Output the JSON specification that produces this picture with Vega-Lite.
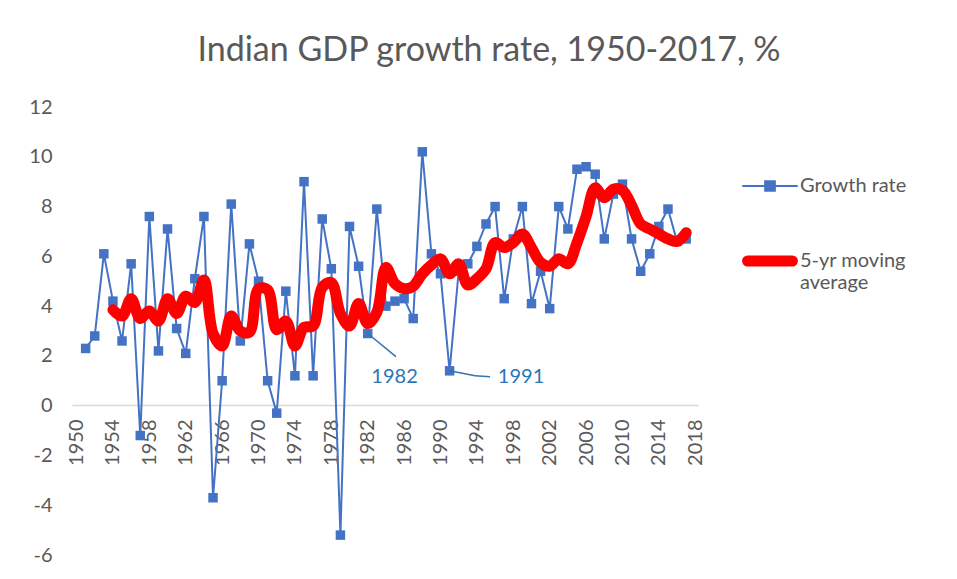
{
  "$schema": "https://vega.github.io/schema/vega-lite/v6.json",
  "width": 626,
  "height": 448,
  "autosize": "none",
  "padding": {"left": 72, "top": 107, "right": 259, "bottom": 24},
  "background": "white",
  "title": {"text": "Indian GDP growth rate, 1950-2017, %", "anchor": "middle", "dx": 104, "offset": 29, "fontSize": 34, "font": "Lato", "fontWeight": "normal", "color": "#595959"},
  "config": {"view": {"stroke": null}, "font": "Lato", "axis": {"labelOverlap": false}, "axisX": {"labelOverlap": false}},
  "datasets": {
    "growth": [
      {"year": 1951, "growth": 2.3}, {"year": 1952, "growth": 2.8}, {"year": 1953, "growth": 6.1}, {"year": 1954, "growth": 4.2},
      {"year": 1955, "growth": 2.6}, {"year": 1956, "growth": 5.7}, {"year": 1957, "growth": -1.2}, {"year": 1958, "growth": 7.6},
      {"year": 1959, "growth": 2.2}, {"year": 1960, "growth": 7.1}, {"year": 1961, "growth": 3.1}, {"year": 1962, "growth": 2.1},
      {"year": 1963, "growth": 5.1}, {"year": 1964, "growth": 7.6}, {"year": 1965, "growth": -3.7}, {"year": 1966, "growth": 1.0},
      {"year": 1967, "growth": 8.1}, {"year": 1968, "growth": 2.6}, {"year": 1969, "growth": 6.5}, {"year": 1970, "growth": 5.0},
      {"year": 1971, "growth": 1.0}, {"year": 1972, "growth": -0.3}, {"year": 1973, "growth": 4.6}, {"year": 1974, "growth": 1.2},
      {"year": 1975, "growth": 9.0}, {"year": 1976, "growth": 1.2}, {"year": 1977, "growth": 7.5}, {"year": 1978, "growth": 5.5},
      {"year": 1979, "growth": -5.2}, {"year": 1980, "growth": 7.2}, {"year": 1981, "growth": 5.6}, {"year": 1982, "growth": 2.9},
      {"year": 1983, "growth": 7.9}, {"year": 1984, "growth": 4.0}, {"year": 1985, "growth": 4.2}, {"year": 1986, "growth": 4.3},
      {"year": 1987, "growth": 3.5}, {"year": 1988, "growth": 10.2}, {"year": 1989, "growth": 6.1}, {"year": 1990, "growth": 5.3},
      {"year": 1991, "growth": 1.4}, {"year": 1992, "growth": 5.4}, {"year": 1993, "growth": 5.7}, {"year": 1994, "growth": 6.4},
      {"year": 1995, "growth": 7.3}, {"year": 1996, "growth": 8.0}, {"year": 1997, "growth": 4.3}, {"year": 1998, "growth": 6.7},
      {"year": 1999, "growth": 8.0}, {"year": 2000, "growth": 4.1}, {"year": 2001, "growth": 5.4}, {"year": 2002, "growth": 3.9},
      {"year": 2003, "growth": 8.0}, {"year": 2004, "growth": 7.1}, {"year": 2005, "growth": 9.5}, {"year": 2006, "growth": 9.6},
      {"year": 2007, "growth": 9.3}, {"year": 2008, "growth": 6.7}, {"year": 2009, "growth": 8.5}, {"year": 2010, "growth": 8.9},
      {"year": 2011, "growth": 6.7}, {"year": 2012, "growth": 5.4}, {"year": 2013, "growth": 6.1}, {"year": 2014, "growth": 7.2},
      {"year": 2015, "growth": 7.9}, {"year": 2016, "growth": 6.6}, {"year": 2017, "growth": 6.7}
    ],
    "ma": [
      {"year": 1954, "ma": 3.85}, {"year": 1955, "ma": 3.6}, {"year": 1956, "ma": 4.3}, {"year": 1957, "ma": 3.5}, {"year": 1958, "ma": 3.8},
      {"year": 1959, "ma": 3.4}, {"year": 1960, "ma": 4.3}, {"year": 1961, "ma": 3.7}, {"year": 1962, "ma": 4.4},
      {"year": 1963, "ma": 4.15}, {"year": 1964, "ma": 5.05}, {"year": 1965, "ma": 2.9}, {"year": 1966, "ma": 2.4},
      {"year": 1967, "ma": 3.6}, {"year": 1968, "ma": 3.0}, {"year": 1969, "ma": 2.95}, {"year": 1970, "ma": 4.7},
      {"year": 1971, "ma": 4.65}, {"year": 1972, "ma": 3.05}, {"year": 1973, "ma": 3.4}, {"year": 1974, "ma": 2.4},
      {"year": 1975, "ma": 3.15}, {"year": 1976, "ma": 3.2}, {"year": 1977, "ma": 4.75}, {"year": 1978, "ma": 4.95},
      {"year": 1979, "ma": 3.7}, {"year": 1980, "ma": 3.2}, {"year": 1981, "ma": 4.1}, {"year": 1982, "ma": 3.3},
      {"year": 1983, "ma": 3.75}, {"year": 1984, "ma": 5.55}, {"year": 1985, "ma": 4.9}, {"year": 1986, "ma": 4.7},
      {"year": 1987, "ma": 4.8}, {"year": 1988, "ma": 5.3}, {"year": 1989, "ma": 5.65}, {"year": 1990, "ma": 5.9},
      {"year": 1991, "ma": 5.3}, {"year": 1992, "ma": 5.7}, {"year": 1993, "ma": 4.85}, {"year": 1994, "ma": 5.1},
      {"year": 1995, "ma": 5.5}, {"year": 1996, "ma": 6.55}, {"year": 1997, "ma": 6.35}, {"year": 1998, "ma": 6.55},
      {"year": 1999, "ma": 6.9}, {"year": 2000, "ma": 6.35}, {"year": 2001, "ma": 5.75}, {"year": 2002, "ma": 5.6},
      {"year": 2003, "ma": 5.9}, {"year": 2004, "ma": 5.7}, {"year": 2005, "ma": 6.55}, {"year": 2006, "ma": 7.6},
      {"year": 2007, "ma": 8.75}, {"year": 2008, "ma": 8.35}, {"year": 2009, "ma": 8.7}, {"year": 2010, "ma": 8.65},
      {"year": 2011, "ma": 8.05}, {"year": 2012, "ma": 7.3}, {"year": 2013, "ma": 7.1}, {"year": 2014, "ma": 6.9},
      {"year": 2015, "ma": 6.7}, {"year": 2016, "ma": 6.6}, {"year": 2017, "ma": 6.95}
    ]
  },
  "layer": [
    {
      "data": {"name": "growth"},
      "mark": {"type": "line", "strokeWidth": 2, "point": {"shape": "square", "size": 90, "filled": true, "opacity": 1}},
      "encoding": {
        "x": {"field": "year", "type": "quantitative",
          "scale": {"domain": [1949.5, 2018.3], "nice": false, "zero": false},
          "axis": {"values": [1950, 1954, 1958, 1962, 1966, 1970, 1974, 1978, 1982, 1986, 1990, 1994, 1998, 2002, 2006, 2010, 2014, 2018],
            "tickCount": 40,
            "format": "d", "labelAngle": -90, "labelAlign": "right", "labelBaseline": "middle", "labelPadding": 14,
            "ticks": false, "grid": false, "title": null, "domainColor": "#D9D9D9", "domainWidth": 1.5, "offset": -150,
            "labelFontSize": 20, "labelColor": "#595959", "labelFont": "Lato", "labelOverlap": false, "labelSeparation": 0, "labelFlush": false, "labelBound": false}},
        "y": {"field": "growth", "type": "quantitative",
          "scale": {"domain": [-6, 12], "nice": false, "zero": false},
          "axis": {"values": [-6, -4, -2, 0, 2, 4, 6, 8, 10, 12], "tickCount": 20, "labelExpr": "'' + datum.value", "domain": false, "ticks": false, "grid": false, "title": null,
            "labelPadding": 20, "labelFontSize": 20, "labelColor": "#595959", "labelFont": "Lato", "labelOverlap": false, "labelFlush": false}},
        "color": {"datum": "Growth rate", "type": "nominal",
          "scale": {"domain": ["Growth rate", "5-yr moving average"], "range": ["#4472C4", "#FF0000"]},
          "legend": {"orient": "none", "legendX": 671, "legendY": 69, "title": null, "padding": 0,
            "symbolSize": 2916, "symbolType": "M-1,0H1", "labelFontSize": 20, "labelColor": "#595959", "labelFont": "Lato",
            "labelOffset": 3, "rowPadding": 43,
            "labelExpr": "datum.label == '5-yr moving average' ? ['5-yr moving', 'average'] : datum.label",
            "encode": {
              "symbols": {"update": {
                "x": {"value": 27},
                "size": {"value": 2916},
                "shape": {"signal": "datum.value == 'Growth rate' ? 'M-1,0H1M-0.18,-0.18H0.18V0.18H-0.18Z' : 'M-0.83,0H0.83'"},
                "strokeWidth": {"signal": "datum.value == 'Growth rate' ? 2 : 11"},
                "stroke": {"signal": "datum.value == 'Growth rate' ? '#4472C4' : '#FF0000'"},
                "fill": {"signal": "datum.value == 'Growth rate' ? '#4472C4' : 'transparent'"},
                "strokeCap": {"value": "round"},
                "opacity": {"value": 1}
              }},
              "labels": {"update": {"x": {"value": 57}}}
            }
          }}
      }
    },
    {
      "data": {"name": "ma"},
      "mark": {"type": "line", "strokeWidth": 11, "strokeCap": "round", "strokeJoin": "round", "interpolate": "catmull-rom"},
      "encoding": {
        "x": {"field": "year", "type": "quantitative"},
        "y": {"field": "ma", "type": "quantitative"},
        "color": {"datum": "5-yr moving average", "type": "nominal"}
      }
    },
    {
      "data": {"values": [{}]},
      "mark": {"type": "rule", "color": "#2E75B6", "strokeWidth": 1.5},
      "encoding": {"x": {"datum": 1982}, "y": {"datum": 2.9}, "x2": {"datum": 1985.1}, "y2": {"datum": 1.97}}
    },
    {
      "data": {"values": [{}]},
      "mark": {"type": "rule", "color": "#2E75B6", "strokeWidth": 1.5},
      "encoding": {"x": {"datum": 1991}, "y": {"datum": 1.4}, "x2": {"datum": 1993.8}, "y2": {"datum": 1.2}}
    },
    {
      "data": {"values": [{}]},
      "mark": {"type": "rule", "color": "#2E75B6", "strokeWidth": 1.5},
      "encoding": {"x": {"datum": 1993.8}, "y": {"datum": 1.2}, "x2": {"datum": 1995.45}, "y2": {"datum": 1.16}}
    },
    {
      "data": {"values": [{}]},
      "mark": {"type": "text", "text": "1982", "align": "center", "baseline": "middle", "fontSize": 20, "font": "Lato", "color": "#2E75B6"},
      "encoding": {"x": {"datum": 1984.95}, "y": {"datum": 1.16}}
    },
    {
      "data": {"values": [{}]},
      "mark": {"type": "text", "text": "1991", "align": "left", "baseline": "middle", "fontSize": 20, "font": "Lato", "color": "#2E75B6"},
      "encoding": {"x": {"datum": 1996.3}, "y": {"datum": 1.16}}
    }
  ]
}
